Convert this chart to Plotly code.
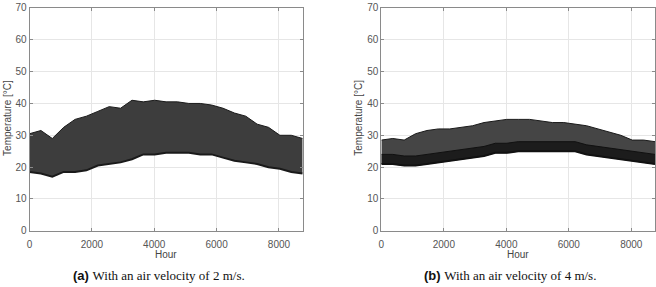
import plotly.graph_objects as go

hours = [0, 365, 730, 1095, 1460, 1825, 2190, 2555, 2920, 3285, 3650, 4015, 4380,
         4745, 5110, 5475, 5840, 6205, 6570, 6935, 7300, 7665, 8030, 8395, 8760]

# (a) air velocity 2 m/s: daily maximum / minimum envelope [°C]
a_max = [30.5, 31.5, 29.0, 32.5, 35.0, 36.0, 37.5, 39.0, 38.5, 41.0, 40.5, 41.0, 40.5,
         40.5, 40.0, 40.0, 39.5, 38.5, 37.0, 36.0, 33.5, 32.5, 30.0, 30.0, 29.0]
a_min = [18.5, 18.0, 17.0, 18.5, 18.5, 19.0, 20.5, 21.0, 21.5, 22.5, 24.0, 24.0, 24.5,
         24.5, 24.5, 24.0, 24.0, 23.0, 22.0, 21.5, 21.0, 20.0, 19.5, 18.5, 18.0]

# (b) air velocity 4 m/s
b_max = [28.5, 29.0, 28.5, 30.5, 31.5, 32.0, 32.0, 32.5, 33.0, 34.0, 34.5, 35.0, 35.0,
         35.0, 34.5, 34.0, 34.0, 33.5, 33.0, 32.0, 31.0, 30.0, 28.5, 28.5, 28.0]
b_min = [21.0, 21.0, 20.5, 20.5, 21.0, 21.5, 22.0, 22.5, 23.0, 23.5, 24.5, 24.5, 25.0,
         25.0, 25.0, 25.0, 25.0, 25.0, 24.0, 23.5, 23.0, 22.5, 22.0, 21.5, 21.0]
b_dark = [24.0, 24.0, 23.5, 23.5, 24.0, 24.5, 25.0, 25.5, 26.0, 26.5, 27.5, 27.5, 28.0,
          28.0, 28.0, 28.0, 28.0, 28.0, 27.0, 26.5, 26.0, 25.5, 25.0, 24.5, 24.0]

x_ticks = [0, 2000, 4000, 6000, 8000]
y_ticks = [0, 10, 20, 30, 40, 50, 60, 70]
captions = [("(a)", "With an air velocity of 2 m/s."), ("(b)", "With an air velocity of 4 m/s.")]

W, H = 656, 287
fig = go.Figure()

def band(xa, ya, lo, hi, fillc, linec, lw):
    fig.add_trace(go.Scatter(x=hours, y=lo, mode="lines", line=dict(color=linec, width=lw),
                             xaxis=xa, yaxis=ya, showlegend=False, hoverinfo="skip"))
    fig.add_trace(go.Scatter(x=hours, y=hi, mode="lines", line=dict(color=linec, width=1),
                             fill="tonexty", fillcolor=fillc,
                             xaxis=xa, yaxis=ya, showlegend=False, hoverinfo="skip"))

band("x", "y", a_min, a_max, "#3d3d3d", "#1a1a1a", 2)
band("x2", "y2", b_min, b_max, "#454545", "#1a1a1a", 1)
band("x2", "y2", b_min, b_dark, "#1c1c1c", "#111111", 2)

ydom = [(287 - 234) / H, (287 - 3) / H]
doms = [[26.7 / W, 301.5 / W], [380.7 / W, 1.0]]

axcommon = dict(showgrid=True, gridcolor="#e6e6e6", gridwidth=1, zeroline=False,
                showline=True, linecolor="#8a8a8a", linewidth=1, mirror="allticks",
                ticks="inside", ticklen=3, tickcolor="#8a8a8a", ticklabeloverflow="allow",
                tickfont=dict(family="Liberation Sans, Arial", size=10, color="#555555"))

layout = dict(width=W, height=H, margin=dict(l=0, r=0, t=0, b=0),
              plot_bgcolor="white", paper_bgcolor="white")
for i, (xn, yn) in enumerate([("xaxis", "yaxis"), ("xaxis2", "yaxis2")]):
    sfx = "" if i == 0 else "2"
    layout[xn] = dict(axcommon, domain=doms[i], range=[0, 8760], tickvals=x_ticks,
                      anchor="y" + sfx, ticklabelstandoff=4)
    layout[yn] = dict(axcommon, domain=ydom, range=[0, 70], tickvals=y_ticks,
                      anchor="x" + sfx)
fig.update_layout(**layout)

ann = []
label_font = dict(family="Liberation Sans, Arial", size=10, color="#444444")
centers = [(26.7 + 301.5) / 2 / W, (380.7 + 655.6) / 2 / W]
ylabel_x = [5 / W, 358 / W]
cap_centers = [157 / W, 510 / W]
for i in range(2):
    ann.append(dict(text="Hour", x=centers[i], y=(287 - 259) / H, xref="paper", yref="paper",
                    showarrow=False, font=label_font, xanchor="center", yanchor="middle"))
    ann.append(dict(text="Temperature [°C]", x=ylabel_x[i], y=(287 - 117) / H, xref="paper",
                    yref="paper", showarrow=False, font=label_font, textangle=-90,
                    xanchor="center", yanchor="middle"))
    tag, txt = captions[i]
    ann.append(dict(text="<b>" + tag + "</b> <span style='font-family:Liberation Serif'>" + txt + "</span>",
                    x=cap_centers[i], y=(287 - 280) / H, xref="paper", yref="paper",
                    showarrow=False, xanchor="center", yanchor="middle",
                    font=dict(family="Liberation Sans, Arial", size=13, color="#111111")))
fig.update_layout(annotations=ann)

fig.write_html("out.html")
